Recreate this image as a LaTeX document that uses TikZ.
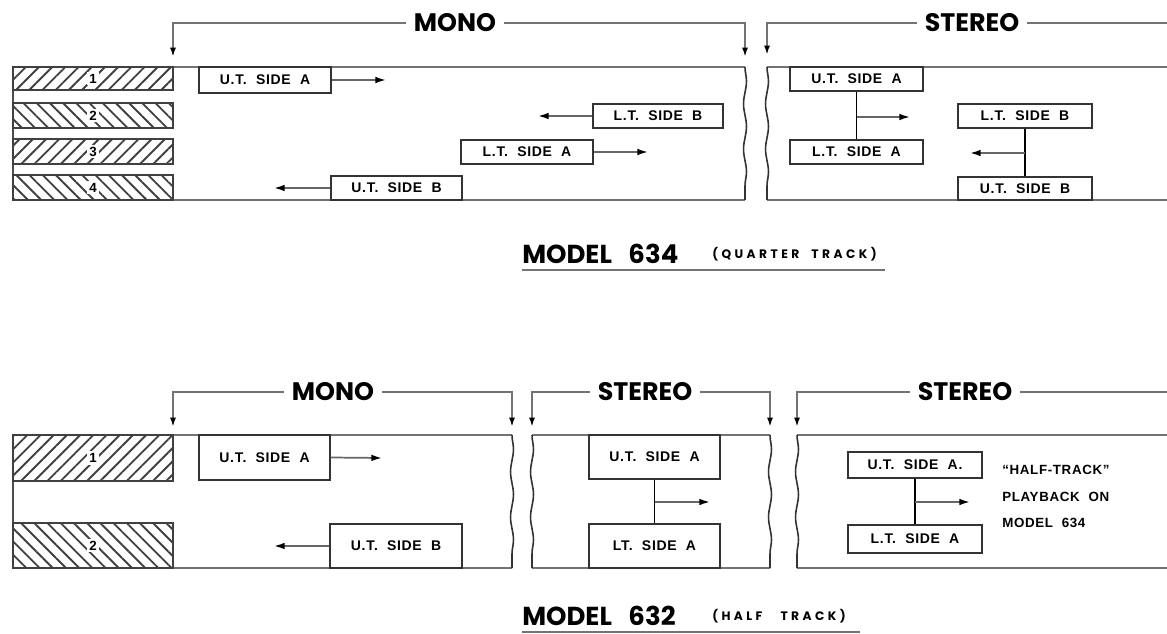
\documentclass[tikz,border=0pt]{standalone}
\usepackage{fontspec}
\setmainfont{Poppins}
\newfontfamily\lblfont{Liberation Sans}[LetterSpace=5]
\newfontfamily\smfont{Poppins}[LetterSpace=28]
\usetikzlibrary{arrows.meta,patterns.meta,fit,decorations.pathmorphing,calc}
\begin{document}
\begin{tikzpicture}[x=0.75pt,y=-0.75pt,
  tape/.style={draw=black!55,line width=1.6pt},
  thin/.style={draw=black!70,line width=0.9pt},
  wavy/.style={draw=black!80,line width=1.2pt,decorate,decoration={snake,amplitude=1.1pt,segment length=34pt}},
  lbox/.style={draw=black!80,line width=1.2pt,inner sep=0pt,font=\lblfont\bfseries\fontsize{10.5}{12}\selectfont},
  sz/.style 2 args={minimum width=#1*0.75pt,minimum height=#2*0.75pt},
  hatchA/.style={draw=black!75,line width=1pt,inner sep=0pt,pattern={Lines[angle=45,distance=7pt,line width=1.4pt]},pattern color=black!75},
  hatchB/.style={draw=black!75,line width=1pt,inner sep=0pt,pattern={Lines[angle=-45,distance=7pt,line width=1.4pt]},pattern color=black!75},
  num/.style={fill=white,inner sep=1.5pt,font=\lblfont\bfseries\fontsize{10}{11}\selectfont},
  arr/.style={draw=black!60,line width=1.3pt,-{Latex[length=8pt,width=5pt,color=black]}},
  conn/.style={draw=black,line width=1.2pt},
  hdr/.style={inner xsep=6pt,inner ysep=0pt,font=\bfseries\fontsize{19}{22}\selectfont},
  brk/.style={draw=black!55,line width=1.6pt},
  brka/.style={brk,-{Latex[length=7pt,width=4.5pt,color=black]}},
  capbig/.style={inner sep=0pt,anchor=west,font=\bfseries\fontsize{19.5}{22}\selectfont},
  capsm/.style={inner sep=0pt,anchor=west,font=\smfont\bfseries\fontsize{9.2}{10}\selectfont},
  note/.style={inner sep=0pt,anchor=north west,align=left,font=\lblfont\bfseries\fontsize{10}{20}\selectfont}
]
\useasboundingbox (0,0) rectangle (1167,634);

% ================= MODEL 634 =================
\node[hdr] (hm1) at (455,23) {MONO};
\coordinate (m1L) at (173,57);
\coordinate (m1R) at (745,57);
\draw[brka] (hm1.west) -| (m1L);
\draw[brka] (hm1.east) -| (m1R);
\node[hdr] (hs1) at (972,23) {STEREO};
\coordinate (s1L) at (767,55);
\coordinate (s1R) at (1167,23);
\draw[brka] (hs1.west) -| (s1L);
\draw[brk] (hs1.east) -- (s1R);

\draw[tape] (13,67) -- (745,67);
\draw[tape] (13,200) -- (745,200);
\draw[tape] (767,67) -- (1167,67);
\draw[tape] (767,200) -- (1167,200);
\draw[thin] (13,67) -- (13,200);
\draw[wavy] (745,67) -- (745,200);
\draw[wavy] (767,67) -- (767,200);

\node[hatchA,fit={(13,67)(173,90)}] (t1) {};
\node[num] at (t1) {1};
\node[hatchB,fit={(13,103)(173,128)}] (t2) {};
\node[num] at (t2) {2};
\node[hatchA,fit={(13,139)(173,164)}] (t3) {};
\node[num] at (t3) {3};
\node[hatchB,fit={(13,175)(173,200)}] (t4) {};
\node[num] at (t4) {4};

% mono boxes
\node[lbox,sz={132}{26}] (mUA) at (265,80) {U.T.\ \ SIDE\ \ A};
\coordinate (aUA) at (386,80);
\draw[arr] (mUA.east) -- (aUA);
\node[lbox,sz={130}{24}] (mLB) at (658,116) {L.T.\ \ SIDE\ \ B};
\coordinate (aLB) at (538,116);
\draw[arr] (mLB.west) -- (aLB);
\node[lbox,sz={132}{24}] (mLA) at (527,152) {L.T.\ \ SIDE\ \ A};
\coordinate (aLA) at (648,152);
\draw[arr] (mLA.east) -- (aLA);
\node[lbox,sz={131}{24}] (mUB) at (396.5,188) {U.T.\ \ SIDE\ \ B};
\coordinate (aUB) at (274,188);
\draw[arr] (mUB.west) -- (aUB);

% stereo boxes
\node[lbox,sz={133}{24}] (sUA) at (856.5,79) {U.T.\ \ SIDE\ \ A};
\node[lbox,sz={133}{24}] (sLA) at (856.5,152) {L.T.\ \ SIDE\ \ A};
\draw[conn] (sUA.south) -- (sLA.north);
\coordinate (j1) at (0,117 -| sUA.south);
\coordinate (j1t) at (910,117);
\draw[arr] (j1) -- (j1t);
\node[lbox,sz={134}{24}] (sLB) at (1025,116) {L.T.\ \ SIDE\ \ B};
\node[lbox,sz={134}{23}] (sUB) at (1025,188.5) {U.T.\ \ SIDE\ \ B};
\draw[conn] (sLB.south) -- (sUB.north);
\coordinate (j2) at (0,153 -| sLB.south);
\coordinate (j2t) at (970,153);
\draw[arr] (j2) -- (j2t);

% caption
\node[capbig] (c1) at (522,254) {MODEL\ \ \ 634};
\node[capsm] (c1b) at (712,254) {(QUARTER\ \ TRACK)};
\draw[tape] (522,270) -- (885,270);

% ================= MODEL 632 =================
\node[hdr] (hm2) at (333,392) {MONO};
\coordinate (m2L) at (173,427);
\coordinate (m2R) at (512,427);
\draw[brka] (hm2.west) -| (m2L);
\draw[brka] (hm2.east) -| (m2R);
\node[hdr] (hs2) at (645,392) {STEREO};
\coordinate (s2L) at (532,427);
\coordinate (s2R) at (770,427);
\draw[brka] (hs2.west) -| (s2L);
\draw[brka] (hs2.east) -| (s2R);
\node[hdr] (hs3) at (965,392) {STEREO};
\coordinate (s3L) at (797,427);
\coordinate (s3R) at (1167,392);
\draw[brka] (hs3.west) -| (s3L);
\draw[brk] (hs3.east) -- (s3R);

\draw[tape] (13,435) -- (512,435);
\draw[tape] (13,568) -- (512,568);
\draw[tape] (532,435) -- (770,435);
\draw[tape] (532,568) -- (770,568);
\draw[tape] (797,435) -- (1167,435);
\draw[tape] (797,568) -- (1167,568);
\draw[thin] (13,435) -- (13,568);
\draw[wavy] (512,435) -- (512,568);
\draw[wavy] (532,435) -- (532,568);
\draw[wavy] (770,435) -- (770,568);
\draw[wavy] (797,435) -- (797,568);

\node[hatchA,fit={(13,435)(173,481)}] (u1) {};
\node[num] at (u1) {1};
\node[hatchB,fit={(13,523)(173,568)}] (u2) {};
\node[num] at (u2) {2};

% mono boxes
\node[lbox,sz={131}{45}] (bUA) at (264.5,457.5) {U.T.\ \ SIDE\ \ A};
\coordinate (bUAt) at (382,458);
\draw[arr] (bUA.east) -- (bUAt);
\node[lbox,sz={132}{44}] (bUB) at (396,546) {U.T.\ \ SIDE\ \ B};
\coordinate (bUBt) at (274,546);
\draw[arr] (bUB.west) -- (bUBt);

% middle stereo
\node[lbox,sz={131}{44}] (cUA) at (654.5,457) {U.T.\ \ SIDE\ \ A};
\node[lbox,sz={131}{44}] (cLA) at (654.5,546) {LT.\ \ SIDE\ \ A};
\draw[conn] (cUA.south) -- (cLA.north);
\coordinate (j3) at (0,502 -| cUA.south);
\coordinate (j3t) at (710,502);
\draw[arr] (j3) -- (j3t);

% right stereo
\node[lbox,sz={134}{26}] (rUA) at (915,465) {U.T.\ \ SIDE\ \ A.};
\node[lbox,sz={134}{28}] (rLA) at (915,539) {L.T.\ \ SIDE\ \ A};
\draw[conn] (rUA.south) -- (rLA.north);
\coordinate (j4) at (0,502 -| rUA.south);
\coordinate (j4t) at (970,502);
\draw[arr] (j4) -- (j4t);
\node[note] (nt) at (1002,465) {“HALF-TRACK”\\PLAYBACK\ \ ON\\MODEL\ \ 634};

% caption
\node[capbig] (c2) at (522,616) {MODEL\ \ \ 632};
\node[capsm] (c2b) at (712,616) {(HALF\ \ \ TRACK)};
\draw[tape] (522,632) -- (860,632);
\end{tikzpicture}
\end{document}
